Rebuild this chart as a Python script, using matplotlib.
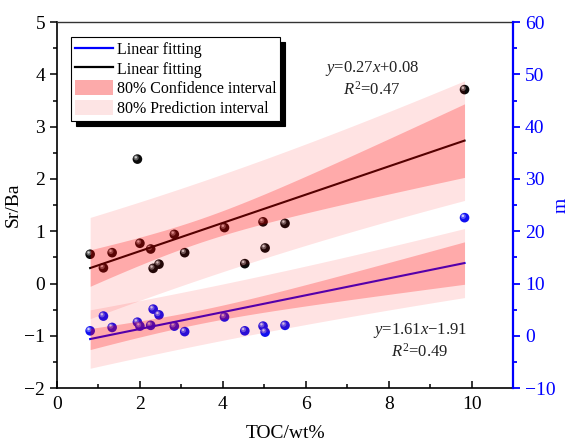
import numpy as np
import matplotlib
matplotlib.use("Agg")
import matplotlib.pyplot as plt
from matplotlib.lines import Line2D
from matplotlib.patches import Patch
from matplotlib.transforms import offset_copy

plt.rcParams['font.family'] = ['Liberation Serif', 'DejaVu Serif']
plt.rcParams['mathtext.fontset'] = 'custom'
plt.rcParams['mathtext.rm'] = 'Liberation Serif'
plt.rcParams['mathtext.it'] = 'Liberation Serif:italic'
plt.rcParams['axes.unicode_minus'] = True

# data
toc = np.array([0.80, 1.12, 1.33, 1.94, 2.00, 2.26, 2.32, 2.46, 2.83, 3.08,
                4.04, 4.53, 4.97, 5.02, 5.50, 9.83])
srba = np.array([0.56, 0.30, 0.59, 2.38, 0.77, 0.66, 0.29, 0.37, 0.94, 0.59,
                 1.07, 0.38, 1.18, 0.68, 1.15, 3.71])
m_val = np.array([0.95, 3.77, 1.60, 2.60, 1.85, 2.00, 5.10, 4.00, 1.85, 0.80,
                  3.60, 0.95, 1.85, 0.70, 2.00, 22.60])

# fitted equations printed on the chart
srba_fit = (0.27, 0.08)
m_fit = (1.61, -1.91)
t80 = 1.345  # t(0.90, df=14)

ci_color = (1.0, 0.0, 0.0, 0.25)
pi_color = (1.0, 0.0, 0.0, 0.11)


def bands(x, y, coef):
    xs = np.linspace(x.min(), x.max(), 100)
    yhat = coef[0] * xs + coef[1]
    res = y - (coef[0] * x + coef[1])
    n = len(x)
    s = np.sqrt(np.sum(res ** 2) / (n - 2))
    sxx = np.sum((x - x.mean()) ** 2)
    ci = t80 * s * np.sqrt(1 / n + (xs - x.mean()) ** 2 / sxx)
    pi = t80 * s * np.sqrt(1 + 1 / n + (xs - x.mean()) ** 2 / sxx)
    return xs, yhat, ci, pi


def spheres(ax, x, y, base, light):
    ax.scatter(x, y, s=48, color=base, edgecolor='none', zorder=2)
    hl = offset_copy(ax.transData, fig=ax.figure, x=-1.3, y=1.3, units='dots')
    ax.scatter(x, y, s=14, color=light, edgecolor='none', zorder=2.1,
               transform=hl, alpha=0.6)
    hl2 = offset_copy(ax.transData, fig=ax.figure, x=-1.6, y=1.8, units='dots')
    ax.scatter(x, y, s=3, color='white', edgecolor='none', zorder=2.2,
               transform=hl2, alpha=0.7)


fig = plt.figure(figsize=(5.71, 4.43), dpi=100)
ax = fig.add_axes([0.0998, 0.124, 0.7987, 0.826])
ax2 = ax.twinx()

# Sr/Ba on left axis
spheres(ax, toc, srba, '#0a0a0a', '#9a9a9a')
xs, yh, ci, pi = bands(toc, srba, srba_fit)
ax.plot(xs, yh, color='black', lw=1.5, zorder=2.5)
ax.fill_between(xs, yh - pi, yh + pi, color=pi_color, lw=0, zorder=3)
ax.fill_between(xs, yh - ci, yh + ci, color=ci_color, lw=0, zorder=3.1)

# m on right axis
spheres(ax2, toc, m_val, '#1010f0', '#9090ff')
xs, yh, ci, pi = bands(toc, m_val, m_fit)
ax2.plot(xs, yh, color='#0000ff', lw=1.5, zorder=2.5)
ax2.fill_between(xs, yh - pi, yh + pi, color=pi_color, lw=0, zorder=3)
ax2.fill_between(xs, yh - ci, yh + ci, color=ci_color, lw=0, zorder=3.1)

ax.set_xlim(0, 11)
ax.set_ylim(-2, 5)
ax2.set_ylim(-10, 60)
ax.set_xticks(np.arange(0, 11, 2))
ax.set_xticks(np.arange(1, 11, 2), minor=True)
ax.set_yticks(np.arange(-2, 6, 1))
ax.set_yticks(np.arange(-1.5, 5, 1), minor=True)
ax2.set_yticks(np.arange(-10, 61, 10))
ax2.set_yticks(np.arange(-5, 60, 10), minor=True)

ax.tick_params(axis='x', which='both', direction='in', labelsize=14, top=False)
ax.tick_params(axis='x', which='major', length=5, width=1.1, pad=6)
ax.tick_params(axis='x', which='minor', length=3, width=1.1)
ax.tick_params(axis='y', which='both', direction='out', labelsize=14, right=False)
ax.tick_params(axis='y', which='major', length=5, width=1.1)
ax.tick_params(axis='y', which='minor', length=3, width=1.1)
ax2.tick_params(axis='y', which='both', direction='out', labelsize=14,
                colors='blue')
ax2.tick_params(axis='y', which='major', length=5, width=1.3)
ax2.tick_params(axis='y', which='minor', length=3, width=1.3)

for sp in ['left', 'bottom']:
    ax.spines[sp].set_linewidth(1.2)
ax.spines['top'].set_linewidth(1.0)
ax.spines['top'].set_color('#333333')
ax.spines['right'].set_visible(False)
for sp in ['left', 'top', 'bottom']:
    ax2.spines[sp].set_visible(False)
ax2.spines['right'].set_color('blue')
ax2.spines['right'].set_linewidth(1.6)

ax.set_xlabel('TOC/wt%', fontsize=14, labelpad=8)
ax.set_ylabel('Sr/Ba', fontsize=14, labelpad=2)
ax2.set_ylabel('m', fontsize=14, color='blue', va='center')
ax2.yaxis.set_label_coords(1.105, 0.5)

ax.text(7.6, 4.12, '$y$=0.27$x$+0.08', fontsize=12, ha='center', va='center',
        color='#222222', zorder=5)
ax.text(7.6, 3.70, '$R^2$=0.47', fontsize=12, ha='center', va='center',
        color='#222222', zorder=5)
ax.text(8.75, -0.89, '$y$=1.61$x$\u22121.91', fontsize=12, ha='center',
        va='center', color='#222222', zorder=5)
ax.text(8.75, -1.31, '$R^2$=0.49', fontsize=12, ha='center', va='center',
        color='#222222', zorder=5)

handles = [Line2D([], [], color='#0000ff', lw=1.6),
           Line2D([], [], color='black', lw=1.6),
           Patch(facecolor='#fcaaaa', edgecolor='none'),
           Patch(facecolor='#fde4e4', edgecolor='none')]
labels = ['Linear fitting', 'Linear fitting', '80% Confidence interval',
          '80% Prediction interval']
leg = ax2.legend(handles, labels, loc='upper left',
                 bbox_to_anchor=(0.031, 0.959), borderaxespad=0,
                 fontsize=11.5, frameon=True, fancybox=False,
                 edgecolor='black', framealpha=1, handlelength=2.4,
                 handleheight=1.1, handletextpad=0.2, labelspacing=0.15,
                 borderpad=0.25,
                 shadow={'color': 'black', 'alpha': 1, 'ox': 3.5, 'oy': -3.5})
leg.get_frame().set_linewidth(0.8)
leg.set_zorder(10)

fig.savefig('out.png', dpi=100)
